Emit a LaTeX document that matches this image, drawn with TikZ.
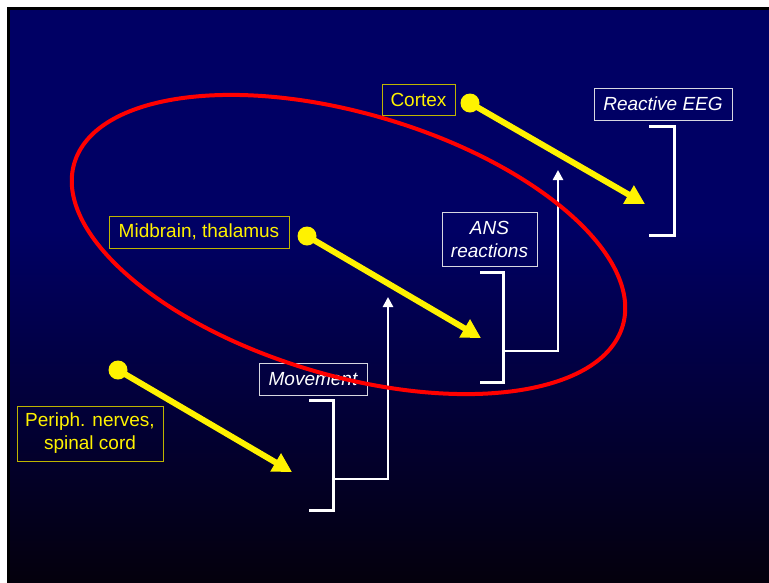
\documentclass[tikz,border=0pt]{standalone}
\usepackage{fontspec}
\setmainfont{Liberation Sans}
\usetikzlibrary{arrows.meta}
\definecolor{slidenavy}{RGB}{0,0,100}
\definecolor{slideblack}{RGB}{4,0,12}
\definecolor{boxyellow}{RGB}{190,180,0}
\definecolor{boxwhite}{RGB}{215,215,225}
\begin{document}
\begin{tikzpicture}[x=1pt, y=-1pt,
  every node/.style={font=\fontsize{19}{23}\selectfont, inner sep=0pt, align=center},
  areabox/.style={draw=boxyellow, line width=1pt, text=yellow},
  effectbox/.style={draw=boxwhite, line width=1pt, text=white, font=\fontsize{19}{23}\selectfont\itshape},
  startdot/.style={circle, fill=yellow, minimum size=19pt},
  yarrow/.style={yellow, line width=6pt, -{Triangle[length=19pt, width=20pt]}},
  bracket/.style={white, line width=3pt},
  warrow/.style={white, line width=2.5pt, -{Triangle[length=10pt, width=10pt]}}]
  \useasboundingbox (0,0) rectangle (769,582);
  % slide background
  \fill[white] (0,0) rectangle (769,582);
  \fill[black] (7,7) rectangle (772,585);
  \fill[slidenavy] (10,10) rectangle (772,231);
  \shade[top color=slidenavy, bottom color=slideblack] (10,230) rectangle (772,585);
  % labels
  \node[areabox, minimum width=73pt, minimum height=31pt] (cortex) at (418.5,99.5) {Cortex};
  \node[effectbox, minimum width=138pt, minimum height=32pt] (eeg) at (663,104) {Reactive EEG};
  \node[areabox, minimum width=180pt, minimum height=32pt] (midbrain) at (199,232) {Midbrain, thalamus};
  \node[effectbox, minimum width=95pt, minimum height=54pt] (ans) at (489.5,239) {ANS\\reactions};
  \node[areabox, minimum width=146pt, minimum height=55pt] (periph) at (90,433.5) {Periph. nerves,\\spinal cord};
  \node[effectbox, minimum width=108pt, minimum height=32pt] (movement) at (313,379) {Movement};
  % brackets and white arrows
  \draw[bracket] (649,126) -| (674,235) -- (649,235);
  \draw[bracket] (480,272) -| (503,382) -- (480,382);
  \coordinate (ansjoin) at (503,351);
  \coordinate (anstip) at (558,170);
  \draw[warrow] (ansjoin) -| (anstip);
  \draw[bracket] (309,400) -| (333,510) -- (309,510);
  \coordinate (mvjoin) at (333,479);
  \coordinate (mvtip) at (388,297);
  \draw[warrow] (mvjoin) -| (mvtip);
  % yellow arrows
  \node[startdot] (cortexdot) at (470,103) {};
  \coordinate (cortextip) at (645,204);
  \draw[yarrow] (cortexdot.center) -- (cortextip);
  \node[startdot] (midbraindot) at (307,236) {};
  \coordinate (midbraintip) at (481,338);
  \draw[yarrow] (midbraindot.center) -- (midbraintip);
  \node[startdot] (periphdot) at (118,370) {};
  \coordinate (periphtip) at (292,472);
  \draw[yarrow] (periphdot.center) -- (periphtip);
  % red ellipse
  \draw[red, line width=4pt, rotate around={-16.5:(348.5,244.5)}] (348.5,244.5) ellipse [x radius=286, y radius=131];
\end{tikzpicture}
\end{document}
